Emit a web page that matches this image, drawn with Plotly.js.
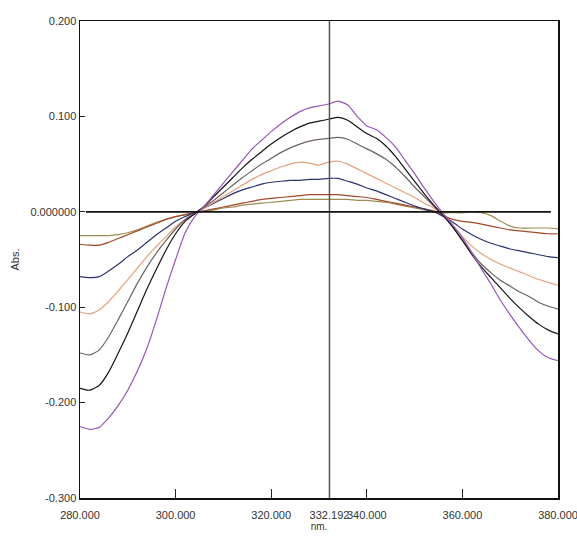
<!DOCTYPE html>
<html>
<head>
<meta charset="utf-8">
<script src="https://cdn.plot.ly/plotly-3.0.1.min.js"></script>
<style>html,body{margin:0;padding:0;background:#fff;}#chart{width:577px;height:543px;}</style>
</head>
<body>
<div id="chart"></div>
<script>
// Wavelength grid (nm)
const wavelength = [280,282,284,286,288,290,292,294,296,298,300,302,304,306,308,310,312,314,316,318,320,322,324,326,328,330,332,334,336,338,340,342,344,346,348,350,352,354,356,358,360,362,364,366,368,370,372,374,376,378,380];

// Absorbance series
const absViolet = [-0.225,-0.228,-0.226,-0.216,-0.203,-0.187,-0.167,-0.143,-0.113,-0.080,-0.050,-0.022,-0.005,0.006,0.018,0.030,0.042,0.054,0.066,0.075,0.084,0.092,0.099,0.105,0.109,0.111,0.113,0.116,0.112,0.100,0.090,0.086,0.078,0.068,0.054,0.040,0.025,0.011,-0.002,-0.014,-0.027,-0.043,-0.060,-0.076,-0.093,-0.108,-0.122,-0.135,-0.146,-0.153,-0.156];
const absBlack = [-0.185,-0.187,-0.182,-0.168,-0.148,-0.127,-0.104,-0.081,-0.060,-0.040,-0.023,-0.010,-0.002,0.006,0.016,0.026,0.036,0.046,0.055,0.063,0.071,0.078,0.084,0.089,0.093,0.095,0.097,0.099,0.096,0.089,0.082,0.077,0.069,0.058,0.045,0.032,0.019,0.007,-0.004,-0.016,-0.030,-0.045,-0.058,-0.069,-0.080,-0.091,-0.101,-0.110,-0.118,-0.124,-0.128];
const absGray = [-0.148,-0.150,-0.145,-0.131,-0.113,-0.094,-0.075,-0.058,-0.043,-0.030,-0.018,-0.008,-0.002,0.005,0.012,0.020,0.028,0.036,0.043,0.050,0.056,0.062,0.067,0.071,0.074,0.076,0.077,0.078,0.076,0.071,0.066,0.061,0.055,0.047,0.037,0.026,0.016,0.006,-0.004,-0.016,-0.030,-0.043,-0.055,-0.064,-0.072,-0.078,-0.084,-0.089,-0.095,-0.099,-0.102];
const absSalmon = [-0.105,-0.107,-0.103,-0.094,-0.083,-0.071,-0.059,-0.047,-0.036,-0.026,-0.016,-0.008,-0.002,0.004,0.010,0.016,0.022,0.028,0.034,0.039,0.043,0.047,0.050,0.052,0.051,0.049,0.052,0.053,0.050,0.045,0.040,0.035,0.030,0.025,0.020,0.015,0.009,0.004,-0.004,-0.015,-0.026,-0.036,-0.044,-0.050,-0.055,-0.059,-0.063,-0.067,-0.071,-0.074,-0.077];
const absNavy = [-0.068,-0.069,-0.068,-0.062,-0.055,-0.047,-0.040,-0.032,-0.024,-0.017,-0.010,-0.005,-0.001,0.004,0.009,0.014,0.019,0.023,0.026,0.029,0.031,0.032,0.033,0.033,0.034,0.034,0.035,0.035,0.032,0.029,0.025,0.022,0.018,0.014,0.010,0.006,0.003,0.000,-0.005,-0.011,-0.018,-0.024,-0.029,-0.033,-0.036,-0.039,-0.041,-0.043,-0.045,-0.047,-0.048];
const absBrown = [-0.034,-0.035,-0.035,-0.032,-0.028,-0.024,-0.020,-0.016,-0.012,-0.008,-0.005,-0.003,-0.001,0.001,0.003,0.005,0.007,0.009,0.011,0.013,0.014,0.015,0.016,0.017,0.018,0.018,0.018,0.018,0.017,0.016,0.015,0.013,0.011,0.009,0.007,0.005,0.003,0.001,-0.004,-0.008,-0.010,-0.011,-0.013,-0.015,-0.017,-0.019,-0.020,-0.021,-0.022,-0.023,-0.023];
const absOlive = [-0.025,-0.025,-0.025,-0.025,-0.024,-0.022,-0.019,-0.015,-0.011,-0.008,-0.005,-0.003,-0.001,0.001,0.002,0.004,0.005,0.007,0.008,0.009,0.010,0.011,0.012,0.013,0.013,0.013,0.013,0.013,0.013,0.012,0.012,0.011,0.010,0.008,0.006,0.004,0.002,0.000,-0.001,-0.001,-0.001,0.000,-0.001,-0.004,-0.010,-0.015,-0.017,-0.017,-0.017,-0.017,-0.018];

// Axis ticks
const xTickVals = [280, 300, 320, 332.192, 340, 360, 380];
const xTickText = ["280.000", "300.000", "320.000", "332.192", "340.000", "360.000", "380.000"];
const yTickVals = [-0.3, -0.2, -0.1, 0, 0.1, 0.2];
const yTickText = ["-0.300", "-0.200", "-0.100", "0.000000", "0.100", "0.200"];

// Reference lines
const cursorX = 332.192;
const baselineX = [281.25, 378.5];
const baselineY = 0;

const series = [
  {y: absOlive, color: '#9c8c52'},
  {y: absBrown, color: '#a3482a'},
  {y: absNavy, color: '#2b3370'},
  {y: absSalmon, color: '#e6a07c'},
  {y: absGray, color: '#6f6262'},
  {y: absBlack, color: '#141414'},
  {y: absViolet, color: '#9456b6'}
];

const traces = series.map(s => ({
  type: 'scatter', mode: 'lines', x: wavelength, y: s.y,
  line: {color: s.color, width: 1.2, shape: 'spline', smoothing: 0.6},
  hoverinfo: 'skip', showlegend: false
}));

const font = {family: '"Liberation Sans", Arial, sans-serif', size: 11, color: '#333'};

const layout = {
  width: 577, height: 543,
  margin: {l: 80, r: 19, t: 21, b: 45},
  paper_bgcolor: '#fff', plot_bgcolor: '#fff',
  showlegend: false,
  font: font,
  xaxis: {
    range: [280, 380], tickmode: 'array', tickvals: xTickVals, ticktext: xTickText,
    tickangle: 0, ticks: 'inside', ticklen: 9, tickcolor: '#222', tickwidth: 1,
    showline: true, mirror: true, linecolor: '#111', linewidth: 1.5,
    showgrid: false, zeroline: false, ticklabelstandoff: 6, ticklabeloverflow: 'allow',
    automargin: false,
    tickfont: font,
    title: {text: 'nm.', font: {family: font.family, size: 10, color: '#333'}, standoff: 2}
  },
  yaxis: {
    range: [-0.3, 0.2], tickmode: 'array', tickvals: yTickVals, ticktext: yTickText,
    ticks: 'inside', ticklen: 5, tickcolor: '#222', tickwidth: 1,
    showline: true, mirror: true, linecolor: '#111', linewidth: 1.5,
    showgrid: false, zeroline: false, ticklabeloverflow: 'allow', automargin: false,
    tickfont: font,
    title: {text: 'Abs.', font: {family: font.family, size: 11, color: '#333'}, standoff: 8}
  },
  shapes: [
    {type: 'line', xref: 'x', yref: 'y', x0: cursorX, x1: cursorX, y0: -0.3, y1: 0.2,
     line: {color: '#555', width: 1.5}, layer: 'above'},
    {type: 'line', xref: 'x', yref: 'y', x0: baselineX[0], x1: baselineX[1], y0: baselineY, y1: baselineY,
     line: {color: '#111', width: 1.8}, layer: 'above'}
  ]
};

Plotly.newPlot('chart', traces, layout, {staticPlot: true, displayModeBar: false});
</script>
</body>
</html>
